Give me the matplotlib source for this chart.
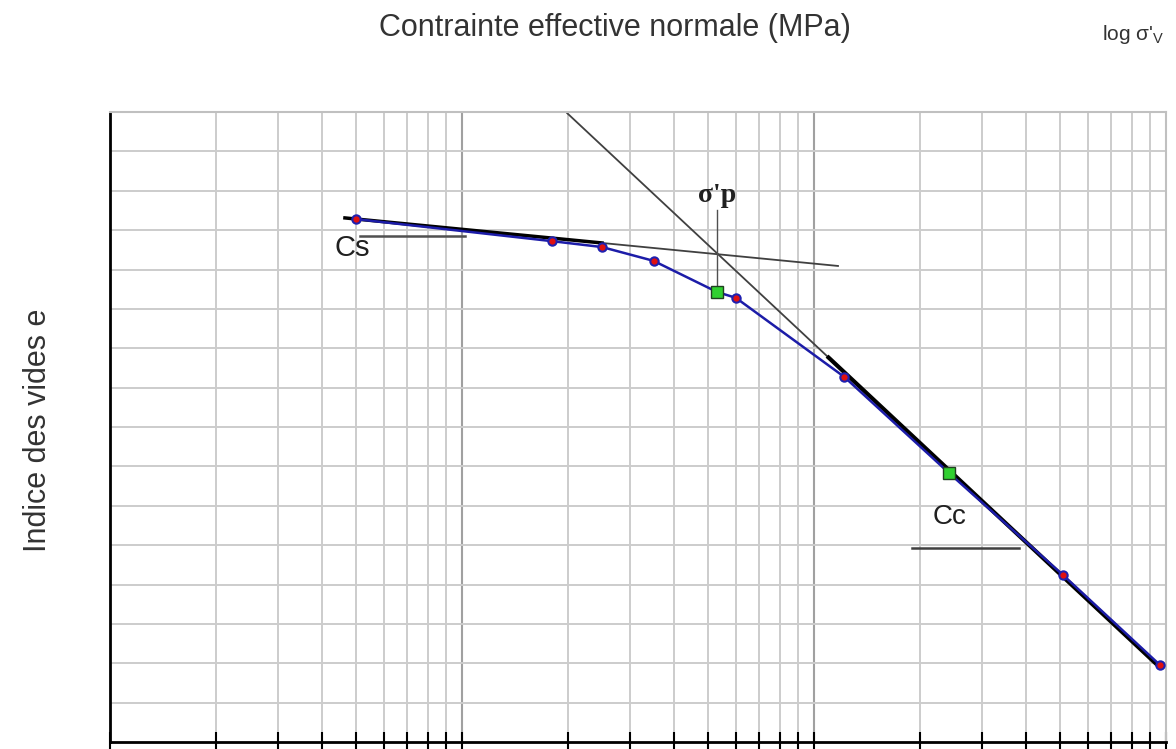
import matplotlib
matplotlib.use("Agg")
import matplotlib.pyplot as plt
import numpy as np

# oedometer test points (stress in MPa, void ratio in grid units)
stress = [0.05, 0.18, 0.25, 0.35, 0.60, 1.22, 5.1, 9.6]
void_ratio = [13.28, 12.72, 12.57, 12.22, 11.28, 9.27, 4.24, 1.96]

# full curve through all points, incl. the two green reference points
curve_stress = [0.05, 0.18, 0.25, 0.35, 0.53, 0.60, 1.22, 2.42, 5.1, 9.6]
curve_void = [13.28, 12.72, 12.57, 12.22, 11.43, 11.28, 9.27, 6.83, 4.24, 1.96]

green_stress = [0.53, 2.42]
green_void = [11.43, 6.83]

# tangent lines
cs_x = [0.0465, 1.17]
cs_y = [13.31, 12.09]
cc_x = [0.199, 9.6]
cc_y = [15.97, 1.90]

sigma_p = 0.53
sigma_p_top = 13.5
sigma_p_bottom = 11.55

plt.rcParams["font.family"] = ["Liberation Sans", "DejaVu Sans"]

fig = plt.figure(figsize=(11.76, 7.49), dpi=100)
ax = fig.add_axes([110 / 1176, 7 / 749, 1056 / 1176, 630 / 749])
ax.set_xscale("log")
ax.set_xlim(0.01, 10)
ax.set_ylim(0, 16)

# grid
minor = [m * 10.0 ** d for d in (-2, -1, 0) for m in range(2, 10)]
for xv in minor:
    ax.axvline(xv, color="#cccccc", lw=1.4, zorder=0)
for xv in (0.1, 1):
    ax.axvline(xv, color="#a0a0a0", lw=1.5, zorder=0)
for yv in range(1, 16):
    ax.axhline(yv, color="#cccccc", lw=1.4, zorder=0)

ax.set_xticks(minor + [0.01, 0.1, 1, 10])
ax.set_xticks([], minor=True)
ax.set_xticklabels([])
ax.set_yticks([])
ax.tick_params(axis="x", direction="inout", length=14, width=1.5, color="black")
for s in ("top", "right"):
    ax.spines[s].set_color("#c0c0c0")
    ax.spines[s].set_linewidth(1.5)
for s in ("left", "bottom"):
    ax.spines[s].set_color("black")
    ax.spines[s].set_linewidth(2)

# tangents
ax.plot(cs_x, cs_y, color="#404040", lw=1.3, zorder=2)
ax.plot(cc_x, cc_y, color="#404040", lw=1.3, zorder=2)
t = np.array([0.0465, 0.25])
ax.plot(t, np.interp(np.log10(t), np.log10(cs_x), cs_y), color="black", lw=2.5, zorder=2)
t = np.array([1.1, 9.6])
ax.plot(t, np.interp(np.log10(t), np.log10(cc_x), cc_y), color="black", lw=3, zorder=2)

# curve
ax.plot(curve_stress, curve_void, color="#1c1ca8", lw=1.8, zorder=3)
ax.plot(stress, void_ratio, "o", ms=6, mfc="#e01010", mec="#2020b0", mew=1.5, zorder=4)
ax.plot(green_stress, green_void, "s", ms=8, mfc="#30d030", mec="#204020", mew=1, zorder=4)

# sigma'p construction
ax.plot([sigma_p, sigma_p], [sigma_p_bottom, sigma_p_top], color="#505050", lw=1, zorder=2)
ax.text(sigma_p, 13.55, "σ'p", family="Liberation Serif", fontsize=20, fontweight="bold",
        ha="center", va="bottom", color="#202020")

# slope labels
ax.plot([0.0513, 0.1023], [12.85, 12.85], color="#505050", lw=1.8)
ax.text(0.0487, 12.55, "Cs", fontsize=21, ha="center", va="center", color="#202020")
ax.plot([1.90, 3.83], [4.93, 4.93], color="#404040", lw=1.8)
ax.text(2.42, 5.71, "Cc", fontsize=20, ha="center", va="center", color="#202020")

fig.text(615 / 1176, 1 - 28 / 749, "Contrainte effective normale (MPa)", fontsize=22,
         ha="center", va="center", color="#333333")
fig.text(1133 / 1176, 1 - 35 / 749, "log σ'$_\\mathregular{V}$", fontsize=15,
         ha="center", va="center", color="#333333")
fig.text(38 / 1176, 1 - 430 / 749, "Indice des vides e", fontsize=22, rotation=90,
         ha="center", va="center", color="#333333")

fig.savefig("out.png", dpi=100)
